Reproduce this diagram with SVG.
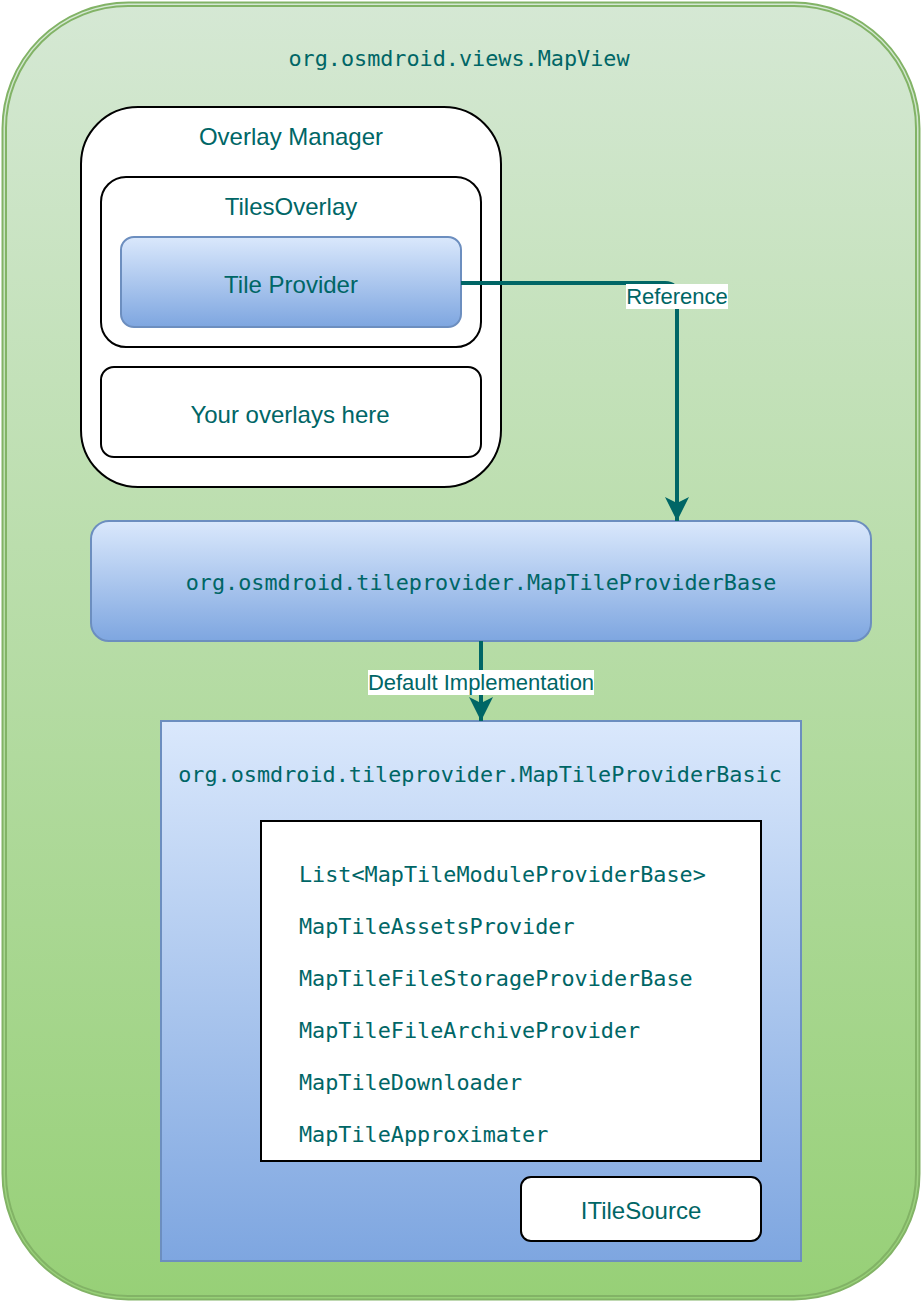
<svg xmlns="http://www.w3.org/2000/svg" width="922" height="1302" viewBox="0 0 922 1302">
<defs>
<linearGradient id="gGreen" x1="0" y1="0" x2="0" y2="1"><stop offset="0" stop-color="#d5e8d4"/><stop offset="1" stop-color="#97d077"/></linearGradient>
<linearGradient id="gBlue" x1="0" y1="0" x2="0" y2="1"><stop offset="0" stop-color="#dae8fc"/><stop offset="1" stop-color="#7ea6e0"/></linearGradient>
<marker id="arr" viewBox="0 0 24 24" refX="24" refY="12" markerWidth="24" markerHeight="24" markerUnits="userSpaceOnUse" orient="auto">
<path d="M24,12 L0,0 L6,12 L0,24 Z" fill="#006666"/>
</marker>
<style>
.sans{font-family:"Liberation Sans",Arial,sans-serif;font-size:24px;fill:#006666;text-anchor:middle;dominant-baseline:central}
.lbl{font-family:"Liberation Sans",Arial,sans-serif;font-size:22px;fill:#006666;text-anchor:middle;dominant-baseline:central}
.mono{font-family:"DejaVu Sans Mono","Liberation Mono",monospace;font-size:21.8px;fill:#006666;dominant-baseline:central}
.mid{text-anchor:middle}
.wbox{fill:#ffffff;stroke:#000000;stroke-width:2}
.bbox{fill:url(#gBlue);stroke:#6c8ebf;stroke-width:2}
.edge{fill:none;stroke:#006666;stroke-width:4}
</style>
</defs>
<g id="mapview">
<rect x="2.5" y="2.5" width="917" height="1297" rx="126" fill="url(#gGreen)" stroke="#82b366" stroke-width="2"/>
<rect x="6" y="6" width="910" height="1290" rx="122" fill="none" stroke="#82b366" stroke-width="2"/>
<text class="mono mid" x="459" y="58">org.osmdroid.views.MapView</text>
</g>
<g id="overlay-manager">
<rect class="wbox" x="81" y="107" width="420" height="380" rx="57"/>
<text class="sans" x="291" y="136">Overlay Manager</text>
</g>
<g id="tiles-overlay">
<rect class="wbox" x="101" y="177" width="380" height="170" rx="25"/>
<text class="sans" x="291" y="206">TilesOverlay</text>
</g>
<g id="tile-provider">
<rect class="bbox" x="121" y="237" width="340" height="90" rx="13"/>
<text class="sans" x="291" y="284">Tile Provider</text>
</g>
<g id="your-overlays">
<rect class="wbox" x="101" y="367" width="380" height="90" rx="13"/>
<text class="sans" x="290" y="414">Your overlays here</text>
</g>
<g id="map-tile-provider-base">
<rect class="bbox" x="91" y="521" width="780" height="120" rx="18"/>
<text class="mono mid" x="481" y="582">org.osmdroid.tileprovider.MapTileProviderBase</text>
</g>
<g id="map-tile-provider-basic">
<rect class="bbox" x="161" y="721" width="640" height="540"/>
<text class="mono mid" x="480" y="774">org.osmdroid.tileprovider.MapTileProviderBasic</text>
</g>
<g id="module-list">
<rect class="wbox" x="261" y="821" width="500" height="340"/>
<text class="mono" x="299" y="874">List&lt;MapTileModuleProviderBase&gt;</text>
<text class="mono" x="299" y="926">MapTileAssetsProvider</text>
<text class="mono" x="299" y="978">MapTileFileStorageProviderBase</text>
<text class="mono" x="299" y="1030">MapTileFileArchiveProvider</text>
<text class="mono" x="299" y="1082">MapTileDownloader</text>
<text class="mono" x="299" y="1134">MapTileApproximater</text>
</g>
<g id="itilesource">
<rect class="wbox" x="521" y="1177" width="240" height="64" rx="10"/>
<text class="sans" x="641" y="1210">ITileSource</text>
</g>
<g id="connectors">
<path class="edge" d="M461,283 H665 Q677,283 677,295 V521" marker-end="url(#arr)"/>
<rect x="626" y="284" width="102" height="25" fill="#ffffff"/>
<text class="lbl" x="677" y="296">Reference</text>
<path class="edge" d="M481,641 V721" marker-end="url(#arr)"/>
<rect x="368" y="670" width="226" height="25" fill="#ffffff"/>
<text class="lbl" x="481" y="682">Default Implementation</text>
</g>
</svg>
